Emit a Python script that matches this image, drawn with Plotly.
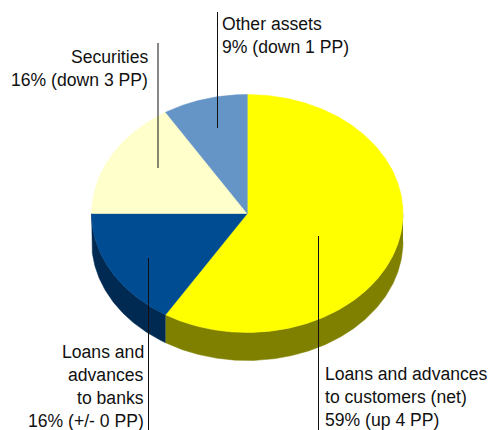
import numpy as np
import plotly.graph_objects as go

# Data, clockwise from 12 o'clock
categories = ["Loans and advances to customers (net)", "Loans and advances to banks", "Securities", "Other assets"]
shares = [58.8, 16.2, 16.2, 8.8]
share_labels = ["59%", "16%", "16%", "9%"]
changes = ["up 4 PP", "+/- 0 PP", "down 3 PP", "down 1 PP"]

# Styles
top_colors = ["#FFFF00", "#004C93", "#FFFFCC", "#6495C6"]
side_colors = ["#808000", "#002A52", "#808066", "#324B63"]
text_color = "#111111"
font_family = "Liberation Sans, Arial, sans-serif"
font_size = 17.6

# Pie geometry, in page pixels
CX, CY, RX, RY, DEPTH = 247.3, 213.5, 155.7, 119.0, 28.0


def rim(a0, a1, dy=0.0):
    t = np.radians(np.linspace(a0, a1, max(int(abs(a1 - a0) * 2), 2)))
    return CX + RX * np.sin(t), CY - RY * np.cos(t) + dy


fig = go.Figure()
edges = 360 * np.cumsum([0] + shares) / sum(shares)

# Rim first, only the part that faces the viewer (90 to 270 degrees)
for i in range(len(shares)):
    a0, a1 = max(edges[i], 90), min(edges[i + 1], 270)
    if a1 <= a0:
        continue
    x0, y0 = rim(a0, a1)
    x1, y1 = rim(a1, a0, DEPTH)
    fig.add_trace(go.Scatter(x=np.r_[x0, x1], y=np.r_[y0, y1], mode="lines", fill="toself",
                             fillcolor=side_colors[i], line=dict(color=side_colors[i], width=0.5),
                             hoverinfo="skip", showlegend=False))

# Top face
for i in range(len(shares)):
    x0, y0 = rim(edges[i], edges[i + 1])
    fig.add_trace(go.Scatter(x=np.r_[CX, x0, CX], y=np.r_[CY, y0, CY], mode="lines", fill="toself",
                             fillcolor=top_colors[i], line=dict(color=top_colors[i], width=0.5),
                             hoverinfo="skip", showlegend=False))

# Leader lines: x, y from, y to
leaders = [(318.5, 236, 430), (148.5, 258, 430), (158, 43, 168), (217.5, 12, 128)]
shapes = [dict(type="line", xref="x", yref="y", x0=x, x1=x, y0=a, y1=b,
               line=dict(color="#111111", width=1), layer="above") for x, a, b in leaders]

# Labels, drawn line by line to keep the 23 px leading
label_blocks = [
    (324, "left", 374, ["Loans and advances", "to customers (net)", f"{share_labels[0]} ({changes[0]})"]),
    (145, "right", 352, ["Loans and", "advances", "to banks", f"{share_labels[1]} ({changes[1]})"]),
    (149, "right", 57, ["Securities", f"{share_labels[2]} ({changes[2]})"]),
    (221, "left", 24, ["Other assets", f"{share_labels[3]} ({changes[3]})"]),
]
annotations = []
for x, anchor, y, lines in label_blocks:
    for k, line in enumerate(lines):
        annotations.append(dict(x=x, y=y + 23 * k, xref="x", yref="y", text=line, showarrow=False,
                                xanchor=anchor, yanchor="middle", align=anchor, borderpad=0,
                                font=dict(family=font_family, size=font_size, color=text_color)))

fig.update_layout(width=490, height=430, margin=dict(l=0, r=0, t=0, b=0),
                  paper_bgcolor="white", plot_bgcolor="white", showlegend=False,
                  xaxis=dict(range=[0, 490], visible=False, fixedrange=True),
                  yaxis=dict(range=[430, 0], visible=False, fixedrange=True),
                  shapes=shapes, annotations=annotations)

fig.write_html("out.html", config={"displayModeBar": False},
               post_script="document.body.style.margin='0';document.body.style.overflow='hidden';")
